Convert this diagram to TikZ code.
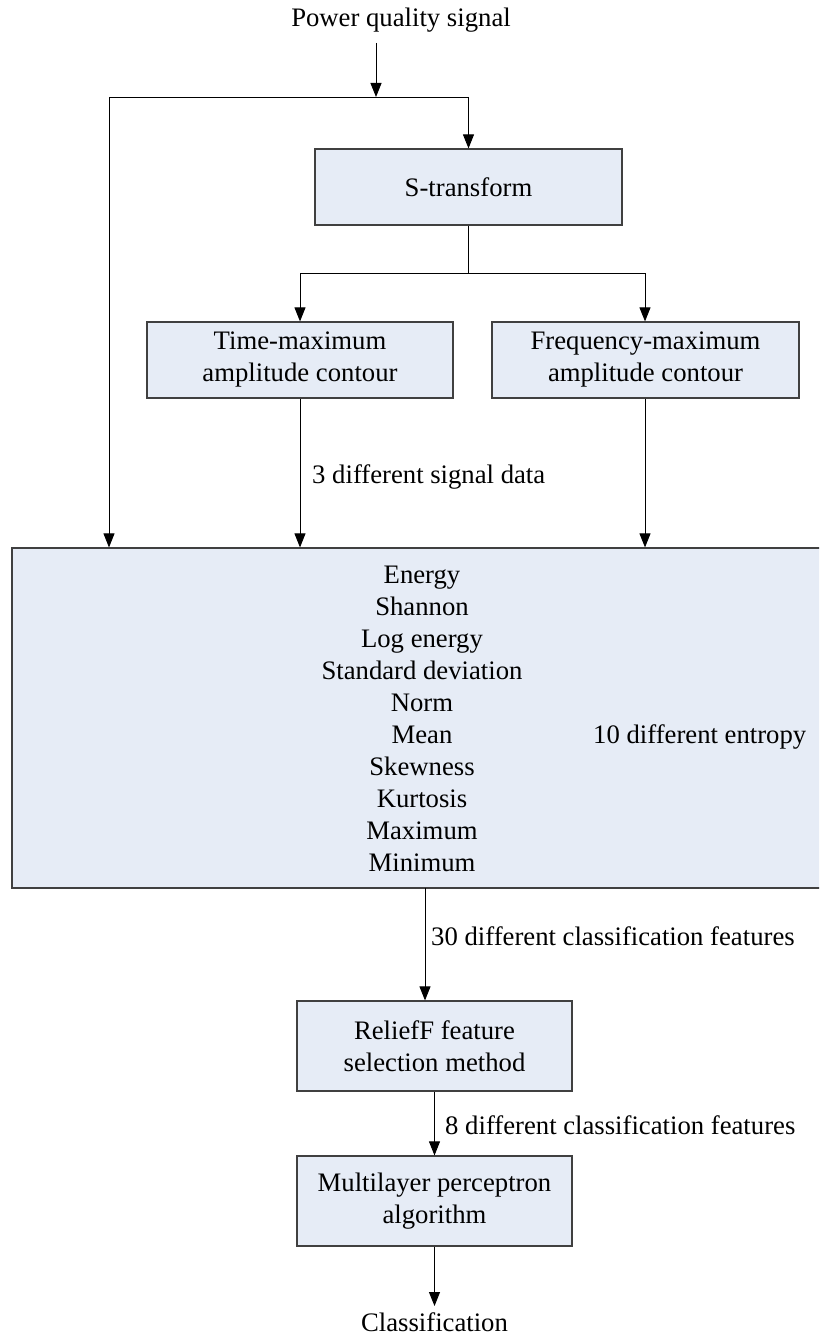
\documentclass[tikz,border=0pt]{standalone}
\usepackage{fontspec}
\setmainfont{Liberation Serif}
\usetikzlibrary{arrows.meta}
\definecolor{boxfill}{RGB}{230,236,246}
\definecolor{boxline}{RGB}{64,64,64}
\begin{document}
\begin{tikzpicture}[x=1pt,y=-1pt,
 every node/.style={font=\fontsize{26.7}{32}\selectfont, inner sep=0pt},
 box/.style={draw=boxline, line width=1.2pt, fill=boxfill, align=center},
 conn/.style={line width=0.9pt, draw=black},
 arr/.style={conn, -{Triangle[length=14pt,width=11pt]}},
 lbl/.style={anchor=west}
]
\useasboundingbox (0,0) rectangle (819,1340);
\clip (0,0) rectangle (819,1340);

\node (sig) at (401,20) {Power quality signal};
\node[box, minimum width=307pt, minimum height=76pt] (st) at (468.5,187) {S-transform};
\node[box, minimum width=306pt, minimum height=76pt] (tm) at (300,360) {Time-maximum\\amplitude contour};
\node[box, minimum width=307pt, minimum height=76pt] (fm) at (645.5,360) {Frequency-maximum\\amplitude contour};
\node[box, minimum width=818pt, minimum height=340pt] (big) at (421,718) {};
\node[align=center] (list) at (422,718.5) {Energy\\Shannon\\Log energy\\Standard deviation\\Norm\\Mean\\Skewness\\Kurtosis\\Maximum\\Minimum};
\node[lbl] (ent) at (593,737) {10 different entropy};
\node[box, minimum width=275pt, minimum height=90pt] (rf) at (434.5,1046) {ReliefF feature\\selection method};
\node[box, minimum width=275pt, minimum height=90pt] (mlp) at (434.5,1201) {Multilayer perceptron\\algorithm};
\node (cls) at (434.5,1322) {Classification};

\coordinate (j0) at (376,43);
\coordinate (j1) at (376,97);
\coordinate (lt) at (109,97);
\coordinate (rt) at (468.5,97);
\draw[arr] (j0) -- (j1);
\draw[conn] (lt) -- (rt);
\draw[arr] (rt) -- (st.north);
\draw[arr] (lt) -- (lt |- big.north);

\coordinate (sj) at (468.5,273);
\coordinate (bl) at (300,273);
\coordinate (br) at (645,273);
\draw[conn] (st.south) -- (sj);
\draw[conn] (bl) -- (br);
\draw[arr] (bl) -- (tm.north);
\draw[arr] (br) -- (br |- fm.north);
\draw[arr] (tm.south) -- (tm.south |- big.north);
\draw[arr] (br |- fm.south) -- (br |- big.north);
\node[lbl] (l3) at (312,477) {3 different signal data};

\coordinate (bo) at (425,888);
\draw[arr] (bo) -- (bo |- rf.north);
\node[lbl] (l30) at (431,936) {30 different classification features};
\draw[arr] (rf.south) -- (mlp.north);
\node[lbl] (l8) at (445,1125) {8 different classification features};
\coordinate (ce) at (434.5,1306);
\draw[arr] (mlp.south) -- (ce);
\end{tikzpicture}
\end{document}
